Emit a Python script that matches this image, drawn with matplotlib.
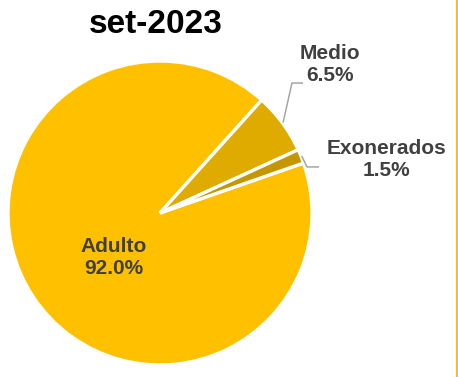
import numpy as np
import matplotlib
matplotlib.use("Agg")
import matplotlib.pyplot as plt
from matplotlib.lines import Line2D

plt.rcParams['font.family'] = ['Liberation Sans', 'DejaVu Sans']

categories = ["Adulto", "Medio", "Exonerados"]
values = [92.0, 6.5, 1.5]
colors = ["#FFC000", "#DFAB00", "#C69600"]
title = "set-2023"

W, H = 458, 377
fig = plt.figure(figsize=(W / 100, H / 100), dpi=100)
ax = fig.add_axes([0, 0, 1, 1])

cx, cy, r = 160, 213, 152
start = 19.2
wedges, _ = ax.pie(values, colors=colors, startangle=start, counterclock=False,
                   radius=1.0, center=(0, 0),
                   wedgeprops=dict(edgecolor="white", linewidth=2.4))
ax.set_xlim(-cx / r, (W - cx) / r)
ax.set_ylim(-(H - cy) / r, cy / r)
ax.set_aspect('auto')
ax.axis('off')

tc = "#404040"
fs = 15
labels = [f"{c}\n{v:.1f}%" for c, v in zip(categories, values)]
label_pos = [(-0.303, -0.296), (1.12, 0.98), (1.487, 0.349)]
for w, lab, pos in zip(wedges, labels, label_pos):
    ax.text(pos[0], pos[1], lab, ha="center", va="center", fontsize=fs,
            fontweight="bold", color=tc, linespacing=1.2)

# leader lines for small slices
elbows = {1: ((0.868, 0.855), 0.073), 2: ((0.967, 0.303), 0.079)}
for i, (elb, dx) in elbows.items():
    w = wedges[i]
    mid = np.deg2rad((w.theta1 + w.theta2) / 2)
    sx, sy = 1.005 * np.cos(mid), 1.005 * np.sin(mid)
    ax.plot([sx, elb[0], elb[0] + dx], [sy, elb[1], elb[1]], color="#A6A6A6", lw=1.1,
            solid_capstyle="butt")

ax.text(-0.03, 1.237, title, ha="center", va="center", fontsize=24,
        fontweight="bold", color="black")

fig.add_artist(Line2D([456.5 / W, 456.5 / W], [0, 1], color="#FFC000", lw=1.6,
                      transform=fig.transFigure))

fig.savefig("out.png", dpi=100, facecolor="white")
